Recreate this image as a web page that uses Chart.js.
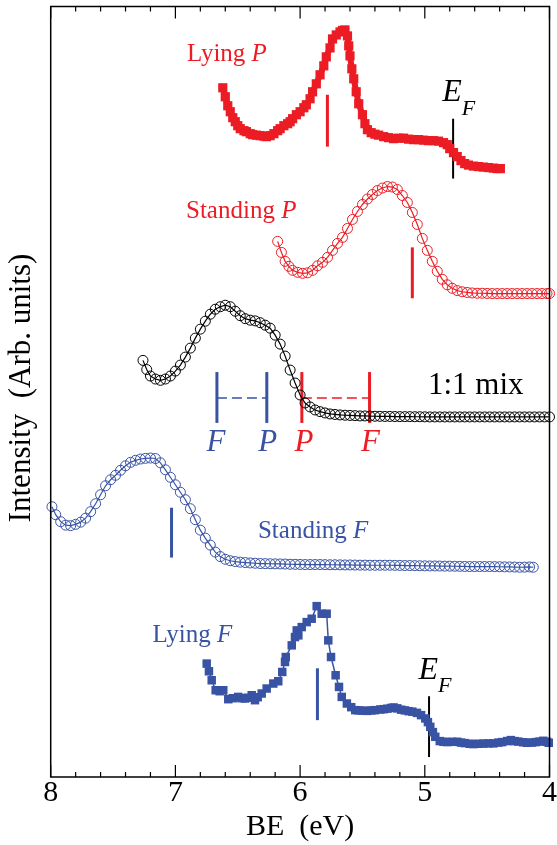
<!DOCTYPE html>
<html>
<head>
<meta charset="utf-8">
<script src="https://cdn.jsdelivr.net/npm/chart.js@4.4.1/dist/chart.umd.min.js"></script>
<style>
  html, body { margin: 0; padding: 0; background: #fff; }
  #wrap { width: 557px; height: 845px; }
</style>
</head>
<body>
<div id="wrap"><canvas id="peChart" width="557" height="845"></canvas></div>
<script>
// spectra: [binding energy (eV), intensity (arb. units, offset per curve)]
const lyingP = [[6.62,686],[6.60,677],[6.58,668],[6.56,662],[6.54,656],[6.52,652],[6.50,648],[6.48,645],[6.45,643],[6.43,642],[6.40,640],[6.38,639],[6.35,638.5],[6.32,638],[6.29,637.5],[6.27,637],[6.24,638],[6.21,640],[6.18,643],[6.16,645],[6.13,648],[6.10,650],[6.08,652],[6.06,655],[6.03,659],[6.00,662],[5.97,666],[5.95,669],[5.92,675],[5.90,682],[5.87,690],[5.84,699],[5.81,708],[5.79,717],[5.76,726],[5.74,735],[5.71,739],[5.68,742],[5.66,743.5],[5.64,744],[5.62,738],[5.61,728],[5.60,718],[5.585,705],[5.57,695],[5.55,682],[5.53,670],[5.50,659],[5.48,650],[5.46,644],[5.43,641],[5.40,639.5],[5.37,638.5],[5.33,637],[5.29,636],[5.25,635],[5.21,635.5],[5.17,635.5],[5.13,634.5],[5.09,634],[5.05,634],[5.01,633.5],[4.97,633],[4.93,633],[4.89,632.5],[4.85,631],[4.82,629],[4.80,625],[4.77,621],[4.74,617],[4.71,613],[4.68,610],[4.65,608.5],[4.61,607.5],[4.57,607],[4.53,606.5],[4.49,606],[4.45,605.5],[4.42,605],[4.394,605]];

const standP = [[6.18,532],[6.15,521],[6.12,512],[6.09,507],[6.06,503],[6.02,501],[5.98,500],[5.94,500.5],[5.90,503],[5.86,507.5],[5.82,511],[5.78,516],[5.74,523],[5.70,530],[5.66,536],[5.62,545],[5.58,554],[5.54,562],[5.50,569],[5.46,574.5],[5.42,579],[5.38,583],[5.34,585.5],[5.30,587],[5.26,586.5],[5.22,584],[5.18,578],[5.14,571],[5.10,561],[5.06,549],[5.02,535],[4.98,523],[4.94,512],[4.90,502],[4.86,494],[4.82,488.5],[4.78,485],[4.74,482.7],[4.70,481.5],[4.66,480.8],[4.62,480.3],[4.58,480],[4.54,480],[4.50,479.8],[4.46,479.7],[4.42,479.7],[4.38,479.7],[4.34,479.7],[4.30,479.7],[4.26,479.7],[4.22,479.7],[4.18,479.7],[4.14,479.7],[4.10,479.7],[4.06,479.7],[4.02,479.7],[4.00,479.7]];

const mix = [[7.26,412.7],[7.23,403.5],[7.20,397],[7.16,394],[7.12,392.7],[7.08,394],[7.04,397],[7.00,402],[6.96,408],[6.92,416],[6.88,425],[6.84,435],[6.80,444],[6.76,452],[6.72,459],[6.68,464],[6.64,466.5],[6.60,468],[6.56,466.5],[6.52,462],[6.48,457.5],[6.44,454.5],[6.40,453],[6.36,452.3],[6.32,450.5],[6.28,448],[6.24,445],[6.20,438],[6.16,429],[6.12,417],[6.08,403],[6.04,390],[6.00,378],[5.96,370],[5.92,366],[5.88,363],[5.84,361.3],[5.80,360],[5.76,359],[5.72,358.5],[5.68,358],[5.64,357.7],[5.60,357.5],[5.56,357.3],[5.52,357],[5.48,357],[5.44,356.8],[5.40,356.7],[5.36,356.6],[5.32,356.5],[5.28,356.5],[5.24,356.4],[5.20,356.3],[5.16,356.3],[5.12,356.3],[5.08,356.2],[5.04,356.2],[5.00,356.1],[4.96,356],[4.92,356],[4.88,356],[4.84,356],[4.80,356],[4.76,356],[4.72,356],[4.68,356],[4.64,356],[4.60,356],[4.56,356],[4.52,356],[4.48,356],[4.44,356],[4.40,356],[4.36,356],[4.32,356],[4.28,356],[4.24,356],[4.20,356],[4.16,356],[4.12,356],[4.08,356],[4.04,356],[4.00,356]];

const standF = [[7.99,266],[7.96,258],[7.92,251],[7.88,247.5],[7.84,247],[7.80,248.3],[7.76,250.5],[7.72,254.5],[7.68,261],[7.64,269],[7.60,278],[7.56,287],[7.52,293],[7.48,297.5],[7.44,302.5],[7.40,307],[7.36,310.5],[7.32,312.5],[7.28,313.8],[7.24,314.5],[7.20,314.8],[7.16,314.3],[7.12,310],[7.08,303],[7.04,295.5],[7.00,288],[6.96,280.5],[6.92,273],[6.88,264],[6.84,253],[6.80,242.5],[6.76,234.5],[6.72,227.5],[6.68,220.5],[6.64,216],[6.60,213.3],[6.56,211.8],[6.52,211],[6.48,210.4],[6.44,210],[6.40,209.6],[6.36,209.3],[6.32,209],[6.28,208.9],[6.24,208.8],[6.20,208.7],[6.16,208.6],[6.12,208.5],[6.08,208.3],[6.04,208.2],[6.00,208.1],[5.96,208],[5.92,208],[5.88,208],[5.84,208],[5.80,207.9],[5.76,207.8],[5.72,207.8],[5.68,207.7],[5.64,207.6],[5.60,207.6],[5.56,207.5],[5.52,207.4],[5.48,207.4],[5.44,207.3],[5.40,207.3],[5.36,207.3],[5.32,207.3],[5.28,207.3],[5.24,207.2],[5.20,207.1],[5.16,207],[5.12,207],[5.08,206.9],[5.04,206.8],[5.00,206.7],[4.96,206.6],[4.92,206.6],[4.88,206.5],[4.84,206.4],[4.80,206.4],[4.76,206.3],[4.72,206.2],[4.68,206.1],[4.64,206],[4.60,206],[4.56,206],[4.52,206],[4.48,206],[4.44,205.9],[4.40,205.8],[4.36,205.7],[4.32,205.6],[4.28,205.5],[4.24,205.3],[4.20,205.4],[4.16,205.6],[4.13,205.3]];

const lyingF = [[6.749,108.7],[6.731,101],[6.709,92],[6.677,82],[6.645,81],[6.616,82],[6.576,73],[6.54,74],[6.496,75.3],[6.47,74],[6.442,73.7],[6.42,74.5],[6.388,77],[6.362,72],[6.34,75],[6.308,78.7],[6.268,83.7],[6.215,88.7],[6.175,91],[6.143,100.3],[6.121,110.3],[6.115,115.3],[6.067,127],[6.041,135.3],[6.027,142],[6.014,137],[5.987,145.3],[5.947,150.3],[5.907,153.7],[5.867,166.3],[5.827,158.7],[5.787,158.7],[5.774,132],[5.752,115.3],[5.715,97],[5.688,85.3],[5.666,75.3],[5.625,68.7],[5.59,65],[5.558,62],[5.53,61.8],[5.50,61.5],[5.464,61.3],[5.43,61.7],[5.40,62],[5.357,62.7],[5.33,63],[5.30,63.5],[5.27,64.2],[5.25,64.7],[5.22,63.8],[5.19,62.5],[5.16,61.8],[5.13,61],[5.10,60.5],[5.063,59.3],[5.03,57],[4.996,53.7],[4.975,50],[4.956,45.3],[4.935,40],[4.916,35.3],[4.88,31],[4.85,30.3],[4.82,30],[4.78,30.3],[4.74,30.3],[4.71,29.5],[4.68,29],[4.64,28.3],[4.61,28],[4.57,28.3],[4.53,28.5],[4.49,28.7],[4.45,28.7],[4.41,29.5],[4.38,30],[4.34,31],[4.31,32],[4.28,31],[4.25,30.5],[4.21,29.8],[4.18,29.3],[4.14,29.5],[4.11,30],[4.08,30.5],[4.05,31.3],[4.02,30.3],[4.006,29.3]];

// peak markers [eV, from, to]
const redBars = [[5.781, 627, 679], [5.100, 475, 526], [5.986, 350, 401], [5.443, 350, 401]];
const blueBars = [[7.031, 215, 265], [5.861, 52, 104], [6.667, 350, 401], [6.267, 350, 401]];
const fermiBars = [[4.773, 595, 655], [4.966, 15, 76]];
// dashed shift lines [from eV, to eV, level]
const blueShift = [6.667, 6.267, 375];
const redShift = [5.986, 5.443, 375];

const xTicks = [8, 7, 6, 5, 4];

const RED = '#ec1c24';
const BLUE = '#3953a4';
const FONT = '"Liberation Serif", "Times New Roman", serif';

function pts(arr) {
    return arr.map(p => ({ x: p[0], y: p[1] }));
}

function squares(label, arr, color, r, lw) {
    return {
        label: label, data: pts(arr), showLine: true,
        borderColor: color, backgroundColor: color, borderWidth: lw,
        pointStyle: 'rect', pointRadius: r, pointBorderWidth: 0,
        pointBackgroundColor: color, clip: false
    };
}

function circles(label, arr, color) {
    return {
        label: label, data: pts(arr), showLine: true,
        borderColor: color, borderWidth: 1.2,
        pointStyle: 'circle', pointRadius: 5, pointBorderWidth: 1,
        pointBorderColor: color, pointBackgroundColor: 'rgba(0,0,0,0)', clip: false
    };
}

function bar(b, color, w) {
    return {
        data: [{ x: b[0], y: b[1] }, { x: b[0], y: b[2] }], showLine: true,
        borderColor: color, borderWidth: w, pointRadius: 0, clip: false
    };
}

function dash(d, color) {
    return {
        data: [{ x: d[0], y: d[2] }, { x: d[1], y: d[2] }], showLine: true,
        borderColor: color, borderWidth: 1.5, borderDash: [10, 5], pointRadius: 0
    };
}

// text pieces: [text, italic, size, dy]
function rich(ctx, parts, px, py, color) {
    let cx = px;
    ctx.fillStyle = color;
    ctx.textAlign = 'left';
    ctx.textBaseline = 'middle';
    parts.forEach(p => {
        ctx.font = (p[1] ? 'italic ' : '') + p[2] + 'px ' + FONT;
        ctx.fillText(p[0], cx, py + (p[3] || 0));
        cx += ctx.measureText(p[0]).width;
    });
}

const decor = {
    id: 'decor',
    afterDraw(chart) {
        const { ctx, chartArea: a, scales: { x, y } } = chart;
        ctx.save();
        ctx.strokeStyle = '#000';
        ctx.lineWidth = 1.5;
        ctx.strokeRect(a.left, a.top, a.right - a.left, a.bottom - a.top);
        // inward ticks, minor every 0.2 eV
        ctx.lineWidth = 1.2;
        for (let i = 0; i <= 20; i++) {
            const px = x.getPixelForValue(4 + i * 0.2);
            const len = (i % 5 === 0) ? 12 : 5;
            ctx.beginPath();
            ctx.moveTo(px, a.bottom); ctx.lineTo(px, a.bottom - len);
            ctx.moveTo(px, a.top); ctx.lineTo(px, a.top + len);
            ctx.stroke();
        }

        const X = v => x.getPixelForValue(v);
        const Y = v => y.getPixelForValue(v);

        rich(ctx, [['Lying ', false, 25], ['P', true, 25]], X(6.907), Y(719), RED);
        rich(ctx, [['Standing ', false, 25], ['P', true, 25]], X(6.915), Y(562), RED);
        rich(ctx, [['1:1 mix', false, 31]], X(4.975), Y(387), '#000');
        rich(ctx, [['Standing ', false, 25], ['F', true, 25]], X(6.338), Y(241), BLUE);
        rich(ctx, [['Lying ', false, 25], ['F', true, 25]], X(7.184), Y(137), BLUE);

        // E_F labels
        rich(ctx, [['E', true, 32], ['F', true, 22, 16]], X(4.86), Y(681), '#000');
        rich(ctx, [['E', true, 32], ['F', true, 22, 16]], X(5.05), Y(102), '#000');

        // F P P F under the mix curve
        ctx.textAlign = 'center';
        ctx.textBaseline = 'middle';
        ctx.font = 'italic 31px ' + FONT;
        ctx.fillStyle = BLUE;
        ctx.fillText('F', X(blueBars[2][0]) - 1, Y(330));
        ctx.fillText('P', X(blueBars[3][0]) + 1, Y(330));
        ctx.fillStyle = RED;
        ctx.fillText('P', X(redBars[2][0]) + 2, Y(330));
        ctx.fillText('F', X(redBars[3][0]) + 1, Y(330));

        // y axis title
        ctx.translate(22, 388);
        ctx.rotate(-Math.PI / 2);
        ctx.fillStyle = '#000';
        ctx.font = '31px ' + FONT;
        ctx.fillText('Intensity  (Arb. units)', 0, 0);
        ctx.restore();
    }
};

const datasets = [
    squares('Lying P', lyingP, RED, 6.5, 6),
    circles('Standing P', standP, RED),
    circles('1:1 mix', mix, '#000'),
    circles('Standing F', standF, BLUE),
    squares('Lying F', lyingF, BLUE, 6, 1.5)
];
redBars.forEach(b => datasets.push(bar(b, RED, 3)));
blueBars.forEach(b => datasets.push(bar(b, BLUE, 3)));
fermiBars.forEach(b => datasets.push(bar(b, '#000', 2)));
datasets.push(dash(blueShift, BLUE));
datasets.push(dash(redShift, RED));

const ctx = document.getElementById('peChart').getContext('2d');
new Chart(ctx, {
    type: 'scatter',
    data: { datasets: datasets },
    options: {
        responsive: false,
        animation: false,
        devicePixelRatio: 1,
        layout: { padding: { left: 50.7, right: 7.5, top: 4.5, bottom: 0 } },
        plugins: { legend: { display: false }, tooltip: { enabled: false } },
        scales: {
            x: {
                type: 'linear', reverse: true, min: 4, max: 8,
                afterBuildTicks: s => { s.ticks = xTicks.map(v => ({ value: v })); },
                afterFit: s => { s.height = 68; s.paddingLeft = 0; s.paddingRight = 0; },
                ticks: {
                    color: '#000', padding: 1, maxRotation: 0,
                    font: { family: FONT, size: 30, lineHeight: 1 }
                },
                grid: { display: false, drawTicks: false },
                border: { display: false },
                title: {
                    display: true, text: 'BE  (eV)', color: '#000',
                    font: { family: FONT, size: 30, lineHeight: 1 },
                    padding: { top: 1, bottom: 3 }
                }
            },
            y: { display: false, min: -5, max: 767.5 }
        }
    },
    plugins: [decor]
});
</script>
</body>
</html>
